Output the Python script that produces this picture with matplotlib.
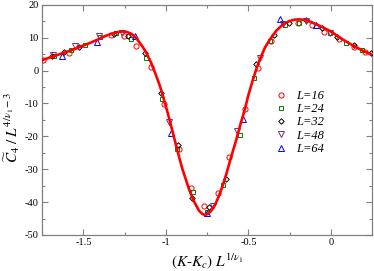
import matplotlib
matplotlib.use("Agg")
import matplotlib.pyplot as plt
from matplotlib.ticker import MultipleLocator

# ---- data ----
x16 = [-1.747, -1.589, -1.335, -1.254, -1.179, -1.091, -1.010, -0.923, -0.848, -0.767,
       -0.686, -0.615, -0.523, -0.442, -0.361, -0.199, -0.112, -0.040, 0.048, 0.138, 0.205]
y16 = [3.3, 5.3, 10.9, 10.4, 7.6, 1.0, -10.2, -23.8, -35.8, -41.2,
       -37.3, -26.2, -11.8, 0.7, 9.0, 14.5, 13.9, 11.8, 9.7, 7.3, 5.8]

x24 = [-1.680, -1.578, -1.491, -1.400, -1.304, -1.210, -1.120, -1.025, -0.935, -0.838,
       -0.753, -0.655, -0.554, -0.469, -0.371, -0.280, -0.193, -0.005, 0.091, 0.187]
y24 = [4.4, 6.2, 7.9, 10.2, 11.4, 9.7, 3.7, -8.5, -23.8, -36.8,
       -42.9, -34.8, -19.5, -2.3, 9.0, 13.9, 14.4, 11.3, 8.4, 6.4]

x32 = [-1.690, -1.619, -1.525, -1.318, -1.228, -1.130, -1.029, -0.929, -0.842, -0.741,
       -0.639, -0.452, -0.347, -0.252, -0.152, -0.053, 0.040, 0.143, 0.243]
y32 = [4.3, 5.7, 7.2, 11.1, 10.6, 5.3, -6.9, -22.6, -38.8, -41.6,
       -33.1, 1.9, 10.8, 14.6, 15.4, 13.1, 10.2, 7.9, 5.3]

x48 = [-1.686, -1.550, -1.406, -1.266, -0.984, -0.716, -0.567, -0.430, -0.290, -0.150, -0.006]
y48 = [4.8, 7.4, 10.6, 11.4, -15.5, -41.2, -18.5, 3.7, 14.2, 15.0, 11.4]

x64 = [-1.629, -1.416, -1.190, -0.970, -0.750, -0.530, -0.306, -0.089]
y64 = [4.5, 8.6, 10.6, -18.9, -43.2, -14.8, 15.8, 14.0]

# fitted scaling curve
xfit = [-1.75, -1.65, -1.568, -1.467, -1.406, -1.365, -1.33, -1.30, -1.284, -1.264, -1.234,
        -1.21, -1.193, -1.17, -1.142, -1.12, -1.091, -1.065, -1.04, -1.02, -0.99, -0.96,
        -0.93, -0.90, -0.858, -0.83, -0.80, -0.78, -0.766, -0.75, -0.73, -0.70, -0.676,
        -0.655, -0.635, -0.605, -0.574, -0.55, -0.523, -0.50, -0.473, -0.45, -0.432,
        -0.40, -0.371, -0.33, -0.29, -0.25, -0.22, -0.189, -0.15, -0.12, -0.067, 0.0,
        0.055, 0.10, 0.15, 0.20, 0.25]
yfit = [3.2, 4.9, 6.3, 8.3, 9.6, 10.6, 11.2, 11.6, 11.8, 11.9, 11.7,
        11.2, 10.5, 9.2, 7.3, 5.5, 2.5, -0.8, -4.2, -7.4, -12.8, -18.5,
        -24.5, -30.0, -36.4, -39.8, -42.6, -43.6, -43.9, -43.7, -42.9, -40.6, -37.8,
        -34.8, -31.6, -26.3, -21.1, -16.6, -12.0, -7.4, -2.8, 0.8, 3.3,
        7.0, 9.4, 12.2, 14.1, 15.1, 15.5, 15.6, 15.3, 14.8, 13.6, 11.9,
        10.0, 8.6, 7.2, 5.9, 4.8]

labels = ["L=16", "L=24", "L=32", "L=48", "L=64"]

plt.rcParams['font.family'] = ['Liberation Serif', 'DejaVu Serif']
plt.rcParams['mathtext.fontset'] = 'stix'

fig = plt.figure(figsize=(3.74, 2.71), dpi=100)
ax = fig.add_axes([0.113, 0.133, 0.882, 0.849])

ms = 3.7
mew = 0.7
ax.plot(x16, y16, linestyle='none', marker='o', ms=ms, mfc='none', mec='#ff0000', mew=mew, label=labels[0], zorder=3)
ax.plot(x24, y24, linestyle='none', marker='s', ms=ms-0.6, mfc='none', mec='#008000', mew=mew, label=labels[1], zorder=3)
ax.plot(x32, y32, linestyle='none', marker='D', ms=ms-0.9, mfc='none', mec='#000000', mew=mew, label=labels[2], zorder=3)
ax.plot(x48, y48, linestyle='none', marker='v', ms=ms, mfc='none', mec='#7b2d7b', mew=mew, label=labels[3], zorder=3)
ax.plot(x64, y64, linestyle='none', marker='^', ms=ms, mfc='none', mec='#0000ff', mew=mew, label=labels[4], zorder=3)
ax.plot(xfit, yfit, color='#ff0000', lw=1.9, zorder=4, solid_capstyle='round')

ax.set_xlim(-1.75, 0.25)
ax.set_ylim(-50, 20)
ax.xaxis.set_minor_locator(MultipleLocator(0.25))
ax.yaxis.set_minor_locator(MultipleLocator(5))
ax.set_xticks([-1.5, -1.0, -0.5, 0.0])
ax.set_xticklabels(['-1.5', '-1', '-0.5', '0'])
ax.set_yticks([20, 10, 0, -10, -20, -30, -40, -50])
ax.set_yticklabels(['20', '10', '0', '-10', '-20', '-30', '-40', '-50'])

for s in ax.spines.values():
    s.set_color('#808080')
    s.set_linewidth(0.9)
ax.tick_params(which='both', direction='in', top=True, right=True, color='#808080',
               labelsize=7.5, pad=2.5, width=0.8)
ax.tick_params(which='major', length=4.5)
ax.tick_params(which='minor', length=2.5)

ax.set_xlabel(r'$(K\text{-}K_c)\;L^{1/\nu_1}$', fontsize=11, labelpad=2.5)
ax.set_ylabel(r'$\widetilde{C}_4\;/\;L^{4/\nu_1-3}$', fontsize=11)
ax.yaxis.set_label_coords(-0.062, 0.47)

leg = ax.legend(loc='upper left', bbox_to_anchor=(0.69, 0.652), frameon=False,
                prop={'family': 'Liberation Serif', 'style': 'italic', 'size': 9},
                handletextpad=0.7, labelspacing=0.1, handlelength=1.0, borderaxespad=0)

fig.savefig('out.png', dpi=100)
